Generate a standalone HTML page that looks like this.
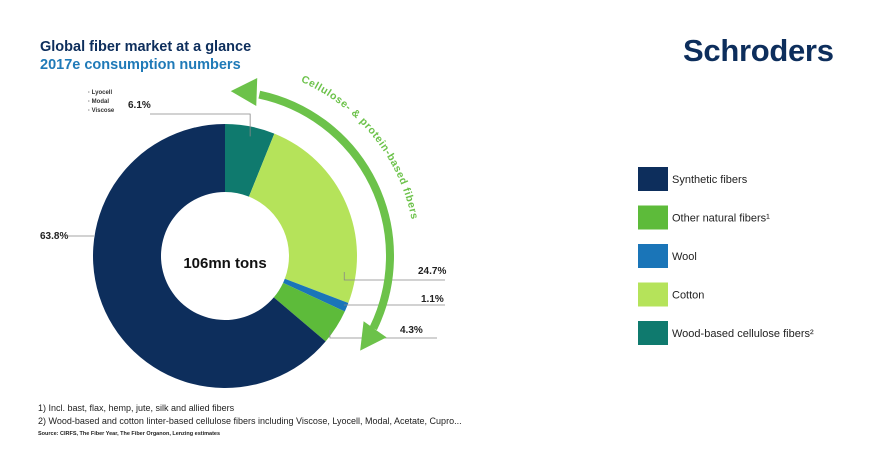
<!DOCTYPE html>
<html><head><meta charset="utf-8"><style>
body{margin:0;width:878px;height:465px;background:#fff;font-family:"Liberation Sans",sans-serif;overflow:hidden}
</style></head><body>
<svg width="878" height="465" viewBox="0 0 878 465" xmlns="http://www.w3.org/2000/svg">
<text x="40" y="51" font-size="14.5" font-weight="bold" fill="#0d2e5c">Global fiber market at a glance</text>
<text x="40" y="69" font-size="14.5" font-weight="bold" fill="#1f7ab8">2017e consumption numbers</text>
<text x="683" y="61" font-size="31" font-weight="bold" fill="#0d2e5c" letter-spacing="-0.3">Schroders</text>
<g id="donut"></g>
<g id="labels" font-size="10" font-weight="bold" fill="#222"></g>
<g font-size="6" font-weight="bold" fill="#333">
<text x="88" y="94">· Lyocell</text><text x="88" y="103">· Modal</text><text x="88" y="112">· Viscose</text></g>
<text x="225" y="268" text-anchor="middle" font-size="15" font-weight="bold" fill="#111">106mn tons</text>
<g id="arrow"></g>
<defs><path id="tp" d="M 300.6 81.6 A 190 190 0 0 1 414 276"/></defs>
<text font-size="10.5" font-weight="bold" fill="#6cc24a" letter-spacing="0.6"><textPath href="#tp">Cellulose- &amp; protein-based fibers</textPath></text>
<g id="legend" font-size="11" fill="#222"></g>
<g font-size="9" fill="#222">
<text x="38" y="411">1) Incl. bast, flax, hemp, jute, silk and allied fibers</text>
<text x="38" y="424">2) Wood-based and cotton linter-based cellulose fibers including Viscose, Lyocell, Modal, Acetate, Cupro...</text>
<text x="38" y="435" font-size="5.5" font-weight="bold">Source: CIRFS, The Fiber Year, The Fiber Organon, Lenzing estimates</text>
</g>
</svg>
<script>
const categories=["Wood-based cellulose fibers²","Cotton","Wool","Other natural fibers¹","Synthetic fibers"];
const values=[6.1,24.7,1.1,4.3,63.8];
const valueLabels=["6.1%","24.7%","1.1%","4.3%","63.8%"];
const colors=["#0f7a6e","#b5e35a","#1a75b8","#5dbb3a","#0d2e5c"];
const legendOrder=[4,3,2,1,0];
const NS="http://www.w3.org/2000/svg";
const cx=225,cy=256,R=132,r=64;
function pt(a,rad){return [cx+rad*Math.sin(a),cy-rad*Math.cos(a)];}
function mk(tag,attrs,parent){const e=document.createElementNS(NS,tag);for(const k in attrs)e.setAttribute(k,attrs[k]);parent.appendChild(e);return e;}
const total=values.reduce((a,b)=>a+b,0);
const donut=document.getElementById('donut');
let acc=0;const mids=[];
values.forEach((v,i)=>{
  const a0=acc/total*2*Math.PI;acc+=v;const a1=acc/total*2*Math.PI;
  mids.push([a0,a1]);
  const large=(a1-a0)>Math.PI?1:0;
  const [x0,y0]=pt(a0,R),[x1,y1]=pt(a1,R),[x2,y2]=pt(a1,r),[x3,y3]=pt(a0,r);
  const p=mk('path',{d:`M${x0},${y0} A${R},${R} 0 ${large} 1 ${x1},${y1} L${x2},${y2} A${r},${r} 0 ${large} 0 ${x3},${y3} Z`,fill:colors[i]},donut);
  
  
});
const lab=document.getElementById('labels');
const L=[{i:0,tx:128,ty:108,y:114,x0:150},
 {i:1,tx:418,ty:274,y:280,x0:445},
 {i:2,tx:421,ty:302,y:305,x0:445},
 {i:3,tx:400,ty:333,y:338,x0:437},
 {i:4,tx:40,ty:239,y:236,x0:62}];
L.forEach(o=>{
  const t=mk('text',{x:o.tx,y:o.ty},lab);t.textContent=valueLabels[o.i];
  
  
  const [a0,a1]=mids[o.i];
  let d;
  if(o.i===0){const [px,py]=pt((a0+a1)/2,R);d=`M${o.x0},${o.y} L${px},${o.y} L${px},${py+10}`;}
  else if(o.i===4){d=`M${o.x0},${o.y} L94,${o.y}`;}
  else if(o.i===1){const [px,py]=pt(a1-0.06,R-7);d=`M${o.x0},${o.y} L${px},${o.y} L${px},${o.y-8}`;}
  else if(o.i===2){const [px,py]=pt((a0+a1)/2,R-3);d=`M${o.x0},${o.y} L${px},${o.y}`;}
  else{const [px,py]=pt((a0+a1)/2+0.03,R-5);d=`M${o.x0},${o.y} L${px},${o.y} L${px},${o.y-8}`;}
  const l=mk('path',{d:d,stroke:'#888','stroke-width':0.8,fill:'none'},lab);
  
  
});
const ar=document.getElementById('arrow');
const AR=165,s=12*Math.PI/180,e=116*Math.PI/180;
const [sx,sy]=pt(s,AR),[ex,ey]=pt(e,AR);
const arc=mk('path',{d:`M${sx},${sy} A${AR},${AR} 0 0 1 ${ex},${ey}`,stroke:'#6cc24a','stroke-width':8,fill:'none'},ar);


function head(a,dir){const [tx,ty]=pt(a,AR);const tang=[Math.cos(a)*dir,Math.sin(a)*dir];const nrm=[Math.sin(a),-Math.cos(a)];
 const Lh=26,W=14;const bx=tx-tang[0]*Lh,by=ty-tang[1]*Lh;
 return `M${tx},${ty} L${bx+nrm[0]*W},${by+nrm[1]*W} L${bx-nrm[0]*W},${by-nrm[1]*W} Z`;}
const h1=mk('path',{d:head(s-10*Math.PI/180,-1),fill:'#6cc24a'},ar);


const h2=mk('path',{d:head(e+9*Math.PI/180,1),fill:'#6cc24a'},ar);


const lg=document.getElementById('legend');
legendOrder.forEach((ci,k)=>{
  const y=167+k*38.5;
  const sq=mk('rect',{x:638,y:y,width:30,height:24,fill:colors[ci]},lg);
  
  
  const t=mk('text',{x:672,y:y+16},lg);t.textContent=categories[ci];
  
  
});
</script>
</body></html>
